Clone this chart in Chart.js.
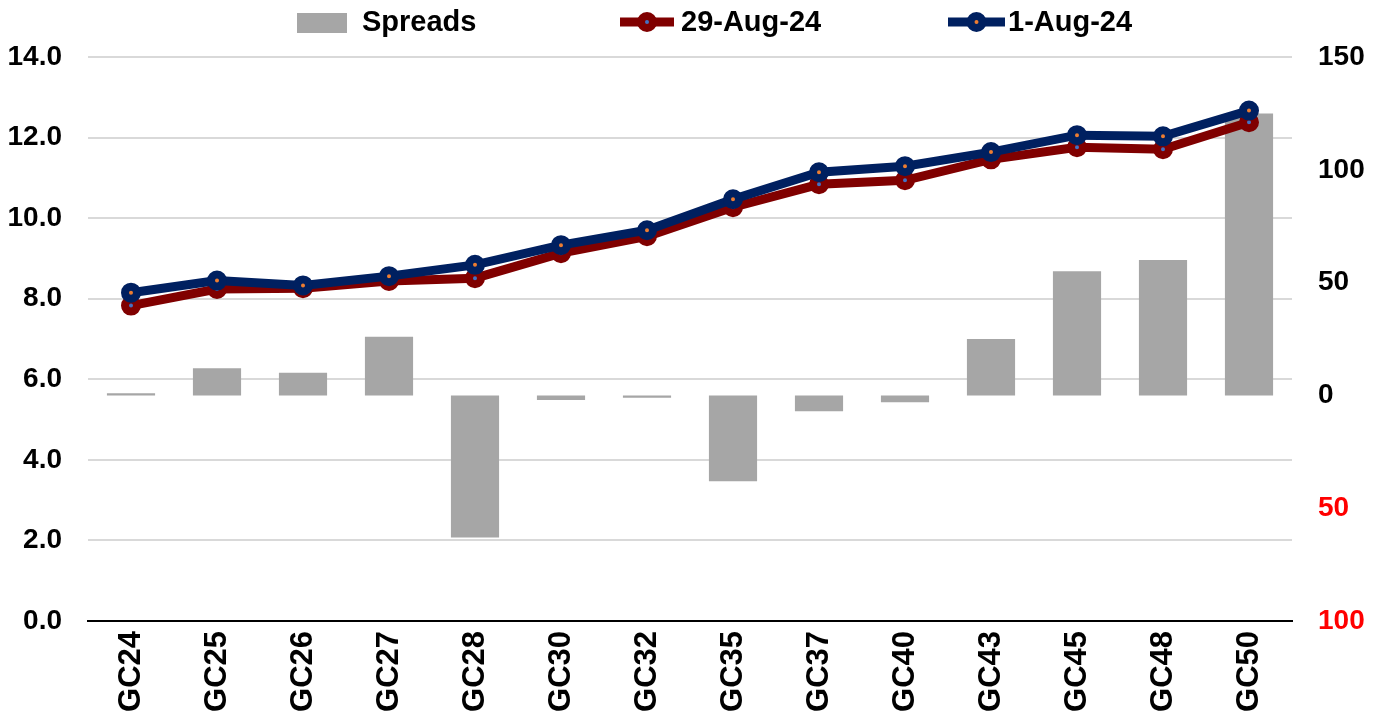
<!DOCTYPE html>
<html>
<head>
<meta charset="utf-8">
<script src="https://cdn.jsdelivr.net/npm/chart.js@4.4.1/dist/chart.umd.min.js"></script>
<style>
  html, body { margin: 0; padding: 0; background: #fff; }
  #wrap { width: 1386px; height: 721px; }
</style>
</head>
<body>
<div id="wrap"><canvas id="spreads"></canvas></div>
<script>
const bonds = ['GC24', 'GC25', 'GC26', 'GC27', 'GC28', 'GC30', 'GC32', 'GC35', 'GC37', 'GC40', 'GC43', 'GC45', 'GC48', 'GC50'];
const spreads = [1, 12, 10, 26, -63, -2, -1, -38, -7, -3, 25, 55, 60, 125];
const yields29Aug = [7.83, 8.24, 8.26, 8.44, 8.51, 9.13, 9.55, 10.27, 10.84, 10.94, 11.46, 11.76, 11.71, 12.38];
const yields1Aug = [8.15, 8.45, 8.33, 8.56, 8.84, 9.33, 9.70, 10.47, 11.14, 11.29, 11.64, 12.06, 12.03, 12.67];
const leftTicks = [0, 2, 4, 6, 8, 10, 12, 14];
const rightTicks = [-100, -50, 0, 50, 100, 150];

const FONT = 'Liberation Sans, Arial, sans-serif';
const GREY = '#a6a6a6';
const MAROON = '#800000';
const NAVY = '#002060';

// legend drawn by hand so it looks like the Excel one
const legendPlugin = {
  id: 'topLegend',
  afterDraw(chart) {
    const ctx = chart.ctx;
    const y = 22;
    ctx.save();
    ctx.font = 'bold 29px ' + FONT;
    ctx.textBaseline = 'middle';

    // Spreads
    ctx.fillStyle = GREY;
    ctx.fillRect(297, 13, 50, 20);
    ctx.fillStyle = '#000';
    ctx.fillText(chart.data.datasets[2].label, 362, y + 1);

    const lineItem = (ds, x0, x1, tx) => {
      ctx.strokeStyle = ds.borderColor;
      ctx.lineWidth = 9;
      ctx.beginPath();
      ctx.moveTo(x0, y);
      ctx.lineTo(x1, y);
      ctx.stroke();
      const cx = (x0 + x1) / 2;
      ctx.beginPath();
      ctx.arc(cx, y, 6, 0, Math.PI * 2);
      ctx.fillStyle = ds.pointBackgroundColor;
      ctx.fill();
      ctx.lineWidth = 8;
      ctx.strokeStyle = ds.pointBorderColor;
      ctx.stroke();
      ctx.fillStyle = '#000';
      ctx.fillText(ds.label, tx, y + 1);
    };
    lineItem(chart.data.datasets[1], 620, 674, 681);
    lineItem(chart.data.datasets[0], 948, 1005, 1008);
    ctx.restore();
  }
};

new Chart(document.getElementById('spreads'), {
  data: {
    labels: bonds,
    datasets: [
      {
        type: 'line',
        label: '1-Aug-24',
        data: yields1Aug,
        yAxisID: 'y',
        borderColor: NAVY,
        borderWidth: 9,
        pointRadius: 6,
        pointBorderWidth: 8,
        pointBorderColor: NAVY,
        pointBackgroundColor: '#ed7d31',
        tension: 0,
        order: 0
      },
      {
        type: 'line',
        label: '29-Aug-24',
        data: yields29Aug,
        yAxisID: 'y',
        borderColor: MAROON,
        borderWidth: 9,
        pointRadius: 6,
        pointBorderWidth: 8,
        pointBorderColor: MAROON,
        pointBackgroundColor: '#4472c4',
        tension: 0,
        order: 1
      },
      {
        type: 'bar',
        label: 'Spreads',
        data: spreads,
        yAxisID: 'y1',
        backgroundColor: GREY,
        barPercentage: 0.56,
        categoryPercentage: 1,
        order: 2
      }
    ]
  },
  options: {
    responsive: true,
    maintainAspectRatio: false,
    animation: false,
    layout: { padding: { top: 57, left: 0, right: 0, bottom: 0 } },
    plugins: {
      legend: { display: false },
      tooltip: { enabled: false }
    },
    scales: {
      x: {
        grid: { display: false, drawTicks: false },
        border: { color: '#000', width: 2 },
        afterFit: axis => { axis.height = 100; },
        ticks: {
          color: '#000',
          font: { family: FONT, size: 31, weight: 'bold' },
          minRotation: 90,
          maxRotation: 90,
          autoSkip: false,
          padding: 10
        }
      },
      y: {
        position: 'left',
        min: 0,
        max: 14,
        afterBuildTicks: axis => { axis.ticks = leftTicks.map(v => ({ value: v })); },
        afterFit: axis => { axis.width = 88; },
        grid: { color: '#d9d9d9', lineWidth: 2, drawTicks: false },
        border: { display: false },
        ticks: {
          color: '#000',
          font: { family: FONT, size: 28, weight: 'bold' },
          padding: 26,
          callback: v => v.toFixed(1)
        }
      },
      y1: {
        position: 'right',
        min: -100,
        max: 150,
        afterBuildTicks: axis => { axis.ticks = rightTicks.map(v => ({ value: v })); },
        afterFit: axis => { axis.width = 94; },
        grid: { display: false, drawTicks: false },
        border: { display: false },
        ticks: {
          color: ctx => ctx.tick && ctx.tick.value < 0 ? '#ff0000' : '#000',
          font: { family: FONT, size: 28, weight: 'bold' },
          padding: 26,
          callback: v => String(Math.abs(v))
        }
      }
    }
  },
  plugins: [legendPlugin]
});
</script>
</body>
</html>
